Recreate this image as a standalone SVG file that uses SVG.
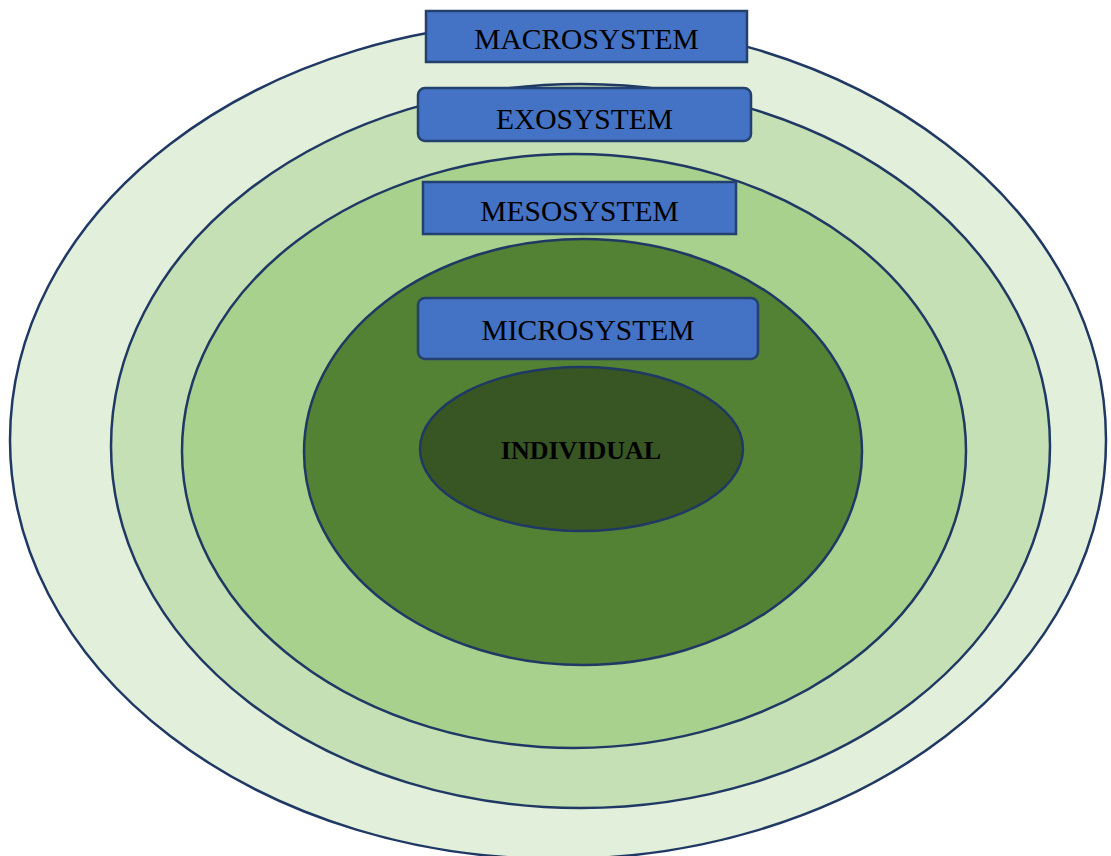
<svg xmlns="http://www.w3.org/2000/svg" width="1111" height="856" viewBox="0 0 1111 856">
  <style>
    .ring { stroke: #1F3864; stroke-width: 2.5; }
    .label-box { fill: #4472C4; stroke: #23406E; stroke-width: 2.5; }
    .label { font-family: "Liberation Serif", "Times New Roman", serif; font-size: 29.5px; fill: #000; text-anchor: middle; }
    .core { font-family: "Liberation Serif", "Times New Roman", serif; font-size: 26px; font-weight: bold; fill: #000; text-anchor: middle; }
  </style>
  <rect width="1111" height="856" fill="#FFFFFF"/>

  <!-- nested system rings, outermost first -->
  <g id="rings">
    <ellipse id="ring-macro" class="ring" cx="558" cy="440" rx="548" ry="419" fill="#E2EFDA"/>
    <ellipse id="ring-exo" class="ring" cx="580.5" cy="446" rx="469.5" ry="362" fill="#C5E0B4"/>
    <ellipse id="ring-meso" class="ring" cx="574" cy="451" rx="392" ry="297" fill="#A9D18E"/>
    <ellipse id="ring-micro" class="ring" cx="583" cy="452" rx="279" ry="213" fill="#548235"/>
  </g>

  <g id="individual">
    <ellipse class="ring" cx="581.5" cy="449" rx="161.5" ry="82" fill="#375623"/>
    <text class="core" x="581" y="459">INDIVIDUAL</text>
  </g>

  <g id="macrosystem">
    <rect class="label-box" x="426" y="11" width="321" height="51"/>
    <text class="label" x="586.5" y="49">MACROSYSTEM</text>
  </g>

  <g id="exosystem">
    <rect class="label-box" x="418" y="88" width="333" height="53" rx="7"/>
    <text class="label" x="584.5" y="129">EXOSYSTEM</text>
  </g>

  <g id="mesosystem">
    <rect class="label-box" x="423" y="182" width="313" height="52"/>
    <text class="label" x="579.5" y="221">MESOSYSTEM</text>
  </g>

  <g id="microsystem">
    <rect class="label-box" x="418" y="298" width="340" height="61" rx="7"/>
    <text class="label" x="588" y="340">MICROSYSTEM</text>
  </g>

  <!-- no connectors in this figure -->
  <g id="connectors"/>
</svg>
